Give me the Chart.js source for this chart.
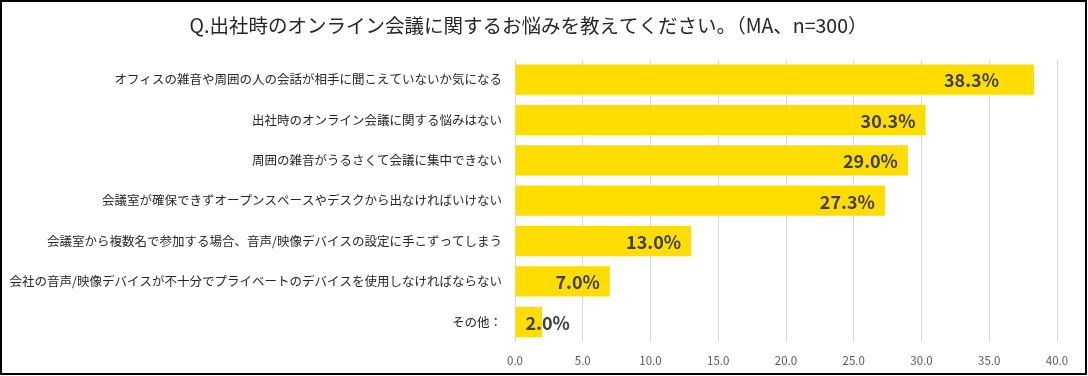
<!DOCTYPE html>
<html>
<head>
<meta charset="utf-8">
<script src="https://cdn.jsdelivr.net/npm/chart.js@4/dist/chart.umd.min.js"></script>
<style>
  html, body { margin: 0; padding: 0; background: #fff; }
</style>
</head>
<body>
<canvas id="chart" width="1088" height="376"></canvas>
<script>
// 設問の選択肢
const categories = [
    'オフィスの雑音や周囲の人の会話が相手に聞こえていないか気になる',
    '出社時のオンライン会議に関する悩みはない',
    '周囲の雑音がうるさくて会議に集中できない',
    '会議室が確保できずオープンスペースやデスクから出なければいけない',
    '会議室から複数名で参加する場合、音声/映像デバイスの設定に手こずってしまう',
    '会社の音声/映像デバイスが不十分でプライベートのデバイスを使用しなければならない',
    'その他：'
];
// 回答率 (%)
const values = [38.3, 30.3, 29.0, 27.3, 13.0, 7.0, 2.0];
// x軸の目盛り
const xTicks = [0, 5, 10, 15, 20, 25, 30, 35, 40];

const titleText = 'Q.出社時のオンライン会議に関するお悩みを教えてください。（MA、n=300）';
const JP_FONT = '"Noto Sans CJK JP", "Noto Sans", sans-serif';

/**
 * 棒の右端付近に値ラベルを描くプラグイン
 * 棒に収まらない場合は棒の始点から描く
 */
const valueLabelPlugin = {
    id: 'valueLabel',
    afterDatasetsDraw: (chart, args, opts) => {
        const ctx = chart.ctx;
        const meta = chart.getDatasetMeta(0);
        ctx.save();
        ctx.font = `bold 18px ${JP_FONT}`;
        ctx.fillStyle = '#404040';
        ctx.textAlign = 'right';
        ctx.textBaseline = 'middle';
        for (const [i, bar] of meta.data.entries()) {
            const text = values[i].toFixed(1) + '%';
            const w = ctx.measureText(text).width;
            const nudge = (opts.nudge && opts.nudge[i]) || 0;
            const right = Math.max(bar.x - 10, bar.base + 10 + w) + nudge;
            ctx.fillText(text, right, bar.y + 1);
        }
        ctx.restore();
    }
};

// 白背景と外枠
const framePlugin = {
    id: 'frame',
    beforeDraw: (chart) => {
        const ctx = chart.ctx;
        ctx.save();
        ctx.fillStyle = '#ffffff';
        ctx.fillRect(0, 0, chart.width, chart.height);
        ctx.restore();
    },
    afterDraw: (chart) => {
        const ctx = chart.ctx;
        ctx.save();
        ctx.strokeStyle = '#000000';
        ctx.lineWidth = 2;
        ctx.strokeRect(1, 1, chart.width - 3, chart.height - 3);
        ctx.restore();
    }
};

new Chart(document.getElementById('chart').getContext('2d'), {
    type: 'bar',
    data: {
        labels: categories,
        datasets: [{
            data: values,
            backgroundColor: '#FFDD00',
            borderWidth: 0,
            barPercentage: 0.75,
            categoryPercentage: 1.0
        }]
    },
    options: {
        indexAxis: 'y',
        responsive: false,
        animation: false,
        layout: { padding: { left: 0, right: 31, top: 0, bottom: 0 } },
        plugins: {
            legend: { display: false },
            tooltip: { enabled: false },
            title: {
                display: true,
                text: titleText,
                color: '#262626',
                font: { family: JP_FONT, size: 19.5, weight: 'normal' },
                padding: { top: 14, bottom: 22 }
            },
            valueLabel: { nudge: [-25, 0, 0, 0, 0, 0, 0] }
        },
        scales: {
            x: {
                min: 0,
                max: 40,
                afterBuildTicks: (scale) => {
                    scale.ticks = xTicks.map(v => ({ value: v }));
                },
                afterFit: (scale) => { scale.height = 34; },
                grid: { color: '#d9d9d9', lineWidth: 1, drawTicks: false },
                border: { display: false },
                ticks: {
                    padding: 12,
                    color: '#595959',
                    font: { family: JP_FONT, size: 11.5 },
                    callback: (v) => Number(v).toFixed(1)
                }
            },
            y: {
                afterFit: (scale) => { scale.width = 515; },
                grid: { display: false, drawTicks: false },
                border: { display: false },
                ticks: {
                    padding: 13,
                    color: '#262626',
                    font: { family: JP_FONT, size: 12.5 }
                }
            }
        }
    },
    plugins: [valueLabelPlugin, framePlugin]
});
</script>
</body>
</html>
